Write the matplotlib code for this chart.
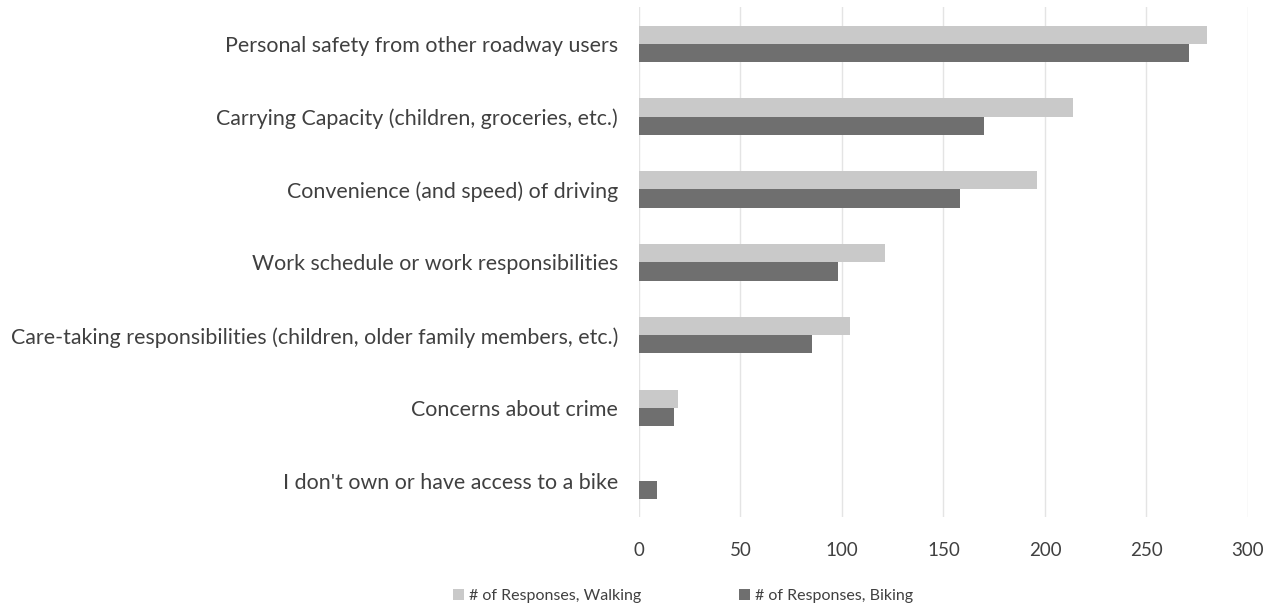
import matplotlib
matplotlib.use("Agg")
import matplotlib.pyplot as plt
import numpy as np

categories = [
    "Personal safety from other roadway users",
    "Carrying Capacity (children, groceries, etc.)",
    "Convenience (and speed) of driving",
    "Work schedule or work responsibilities",
    "Care-taking responsibilities (children, older family members, etc.)",
    "Concerns about crime",
    "I don't own or have access to a bike",
]
walking = [280, 214, 196, 121, 104, 19, 0]
biking = [271, 170, 158, 98, 85, 17, 9]
series_names = ["# of Responses, Walking", "# of Responses, Biking"]
xticks = [0, 50, 100, 150, 200, 250, 300]

plt.rcParams['font.family'] = ['Lato', 'DejaVu Sans']
text_color = "#404040"

fig = plt.figure(figsize=(12.78, 6.08), dpi=100)
ax = fig.add_axes([0.5, 0.149, 0.4765, 0.839])

n = len(categories)
y = np.arange(n)
h = 0.25
ax.barh(y - h / 2, walking, height=h, color="#c9c9c9", label=series_names[0], zorder=3)
ax.barh(y + h / 2, biking, height=h, color="#6f6f6f", label=series_names[1], zorder=3)

ax.set_ylim(n - 0.5, -0.5)
ax.set_xlim(0, 300)
ax.set_xticks(xticks)
ax.set_yticks(y)
ax.set_yticklabels(categories)
ax.tick_params(axis='y', length=0, labelsize=15.4, colors=text_color, pad=15)
ax.tick_params(axis='x', length=0, labelsize=13.5, colors=text_color, pad=18)
ax.xaxis.grid(True, color="#e4e4e4", linewidth=1, zorder=0)
for s in ax.spines.values():
    s.set_visible(False)

leg = fig.legend(loc="lower center", ncol=2, bbox_to_anchor=(0.5345, -0.016), frameon=False,
                 fontsize=11.5, handlelength=0.7, handleheight=0.7, handletextpad=0.3,
                 columnspacing=6.1)
for t in leg.get_texts():
    t.set_color(text_color)

fig.savefig("out.png", dpi=100, facecolor="white")
